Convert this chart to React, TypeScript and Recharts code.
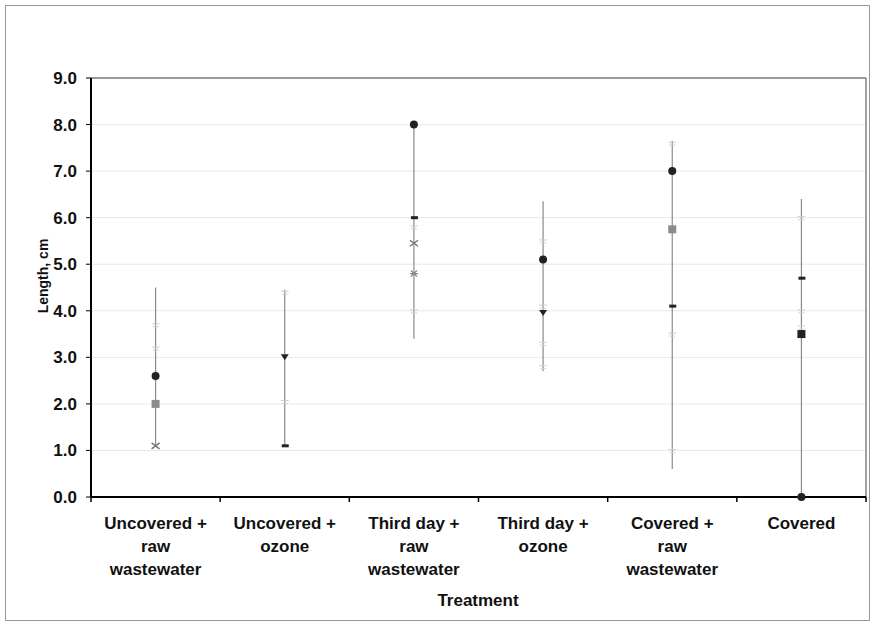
import React from 'react';
import {
  ComposedChart, Line, XAxis, YAxis, CartesianGrid, ReferenceLine, Label,
} from 'recharts';

const categoryLines = [
  ['Uncovered +', 'raw', 'wastewater'],
  ['Uncovered +', 'ozone'],
  ['Third day +', 'raw', 'wastewater'],
  ['Third day +', 'ozone'],
  ['Covered +', 'raw', 'wastewater'],
  ['Covered'],
];
const yTicks = [0, 1, 2, 3, 4, 5, 6, 7, 8, 9];

// spread of lengths per treatment (vertical lines)
const rangeLow = [1.1, 1.1, 3.4, 2.7, 0.6, 0.0];
const rangeHigh = [4.5, 4.45, 8.0, 6.35, 7.65, 6.4];

// marker series
const darkCircle = [2.6, null, 8.0, 5.1, 7.0, 0.0];
const darkSquare = [null, null, null, null, null, 3.5];
const graySquare = [2.0, null, null, null, 5.75, null];
const darkTriangle = [null, 3.0, null, 3.95, null, null];
const darkDash = [null, 1.1, 6.0, null, 4.1, 4.7];
const crossMark = [1.1, null, 5.45, null, null, null];
const starMark = [null, null, 4.8, null, null, null];
const lightA = [3.7, 4.4, 5.8, 5.5, 7.6, 6.0];
const lightB = [3.2, 2.05, 4.0, 4.1, 3.5, 4.0];
const lightC = [null, null, null, 3.3, 1.0, 3.65];
const lightD = [null, null, null, 2.8, null, null];

const data = categoryLines.map((_, i) => ({
  x: i + 0.5,
  darkCircle: darkCircle[i], darkSquare: darkSquare[i], graySquare: graySquare[i],
  darkTriangle: darkTriangle[i], darkDash: darkDash[i], crossMark: crossMark[i],
  starMark: starMark[i], lightA: lightA[i], lightB: lightB[i], lightC: lightC[i], lightD: lightD[i],
}));

const font = '"Liberation Sans", Arial, sans-serif';

const makeDot = (kind: string, color: string) => (props: any) => {
  const { cx, cy, value, index } = props;
  const key = `${kind}-${index}`;
  if (value == null || cx == null || cy == null) return <g key={key} />;
  switch (kind) {
    case 'circle':
      return <circle key={key} cx={cx} cy={cy} r={4} fill={color} />;
    case 'square':
      return <rect key={key} x={cx - 4} y={cy - 4} width={8} height={8} fill={color} />;
    case 'triangle':
      return <path key={key} d={`M${cx - 4},${cy - 3} L${cx + 4},${cy - 3} L${cx},${cy + 3} Z`} fill={color} />;
    case 'dash':
      return <rect key={key} x={cx - 3} y={cy - 1.5} width={7} height={3} fill={color} />;
    case 'cross':
      return (
        <path key={key} d={`M${cx - 4},${cy - 3} L${cx + 4},${cy + 3} M${cx + 4},${cy - 3} L${cx - 4},${cy + 3}`}
          stroke={color} strokeWidth={1.5} />
      );
    case 'star':
      return (
        <path key={key} d={`M${cx - 3},${cy - 3} L${cx + 3},${cy + 3} M${cx + 3},${cy - 3} L${cx - 3},${cy + 3} M${cx - 4},${cy} L${cx + 4},${cy}`}
          stroke={color} strokeWidth={1.2} />
      );
    default:
      return <path key={key} d={`M${cx - 4},${cy - 1} L${cx + 4},${cy - 1} M${cx - 3},${cy + 2} L${cx + 3},${cy + 2}`} stroke={color} strokeWidth={1} />;
  }
};

const XTick = (props: any) => {
  const { x, y, payload } = props;
  const v = payload.value;
  if (Number.isInteger(v)) {
    return <line x1={x} y1={y} x2={x} y2={y + 5} stroke="#000" strokeWidth={1.5} />;
  }
  const lines = categoryLines[Math.floor(v)];
  return (
    <text x={x} y={y} textAnchor="middle" fontFamily={font} fontWeight="bold" fontSize={17} fill="#111">
      {lines.map((l, i) => (
        <tspan key={i} x={x} y={y + 32 + i * 23}>{l}</tspan>
      ))}
    </text>
  );
};

const series: [string, string, string][] = [
  ['lightA', 'light', '#cfcfcf'],
  ['lightB', 'light', '#cfcfcf'],
  ['lightC', 'light', '#d6d6d6'],
  ['lightD', 'light', '#d6d6d6'],
  ['starMark', 'star', '#888'],
  ['crossMark', 'cross', '#777'],
  ['graySquare', 'square', '#8c8c8c'],
  ['darkDash', 'dash', '#222'],
  ['darkTriangle', 'triangle', '#222'],
  ['darkSquare', 'square', '#222'],
  ['darkCircle', 'circle', '#222'],
];

export default function App() {
  return (
    <div style={{ position: 'absolute', left: 0, top: 0, width: 874, height: 625, background: '#fff' }}>
      <div style={{ position: 'absolute', left: 5, top: 5, width: 863, height: 614, border: '1px solid #999' }} />
      <ComposedChart
        width={874} height={625} data={data}
        margin={{ top: 78, right: 8, left: 0, bottom: 0 }}
        style={{ position: 'absolute', left: 0, top: 0 }}
      >
        <CartesianGrid vertical={false} stroke="#e8e8e8" />
        <XAxis
          dataKey="x" type="number" domain={[0, 6]} ticks={[0, 0.5, 1, 1.5, 2, 2.5, 3, 3.5, 4, 4.5, 5, 5.5, 6]}
          interval={0} tickLine={false} tickSize={0} tickMargin={0} height={128}
          axisLine={{ stroke: '#000', strokeWidth: 2 }} tick={<XTick />}
        >
          <Label content={() => (
            <text x={478} y={606} textAnchor="middle" fontFamily={font} fontWeight="bold" fontSize={17} fill="#111">
              Treatment
            </text>
          )} />
        </XAxis>
        <YAxis
          domain={[0, 9]} ticks={yTicks} width={91} tickSize={5} tickMargin={9}
          tickFormatter={(v: number) => v.toFixed(1)}
          tick={{ fontFamily: font, fontWeight: 'bold', fontSize: 17, fill: '#111' }}
          tickLine={{ stroke: '#000' }} axisLine={{ stroke: '#000', strokeWidth: 2 }}
        >
          <Label content={() => (
            <text transform="translate(48,276) rotate(-90)" textAnchor="middle" fontFamily={font}
              fontWeight="bold" fontSize={14} fill="#111">
              Length, cm
            </text>
          )} />
        </YAxis>
        <ReferenceLine y={9} stroke="#444" />
        <ReferenceLine x={6} stroke="#444" />
        {data.map((d, i) => (
          <ReferenceLine key={i} segment={[{ x: d.x, y: rangeLow[i] }, { x: d.x, y: rangeHigh[i] }]}
            stroke="#8a8a8a" strokeWidth={1.2} />
        ))}
        {series.map(([k, kind, color]) => (
          <Line key={k} dataKey={k} stroke="none" isAnimationActive={false}
            dot={makeDot(kind, color)} activeDot={false} connectNulls={false} />
        ))}
      </ComposedChart>
    </div>
  );
}
